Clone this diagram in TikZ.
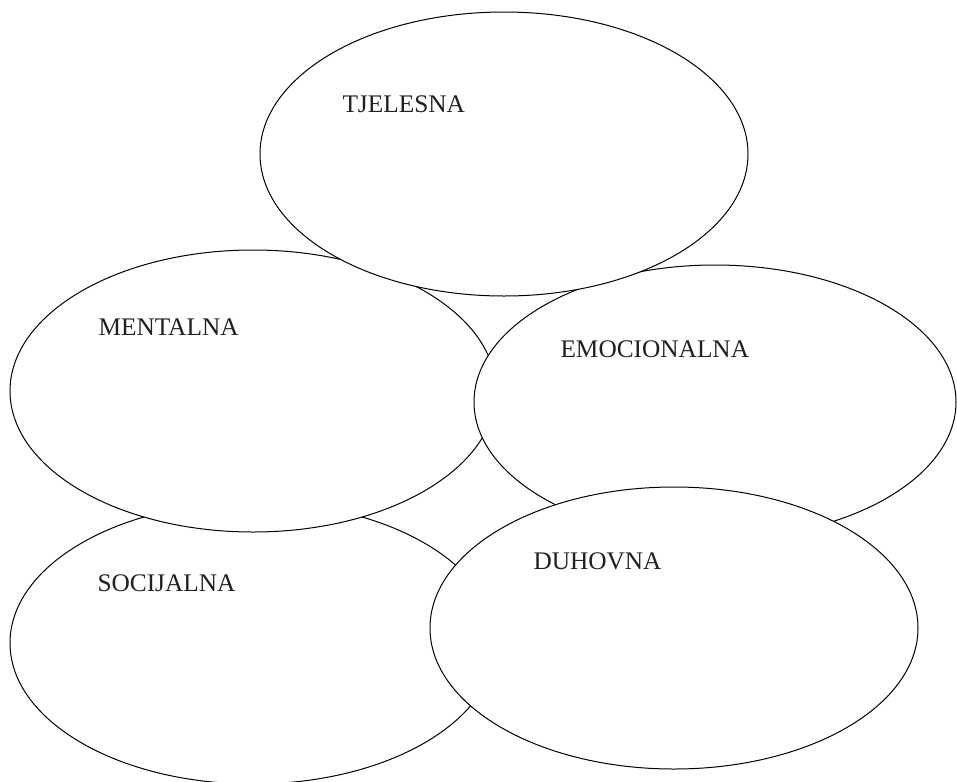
\documentclass[tikz,border=0pt]{standalone}
\usepackage{fontspec}
\setmainfont{Liberation Serif}

\tikzset{every picture/.style={line width=0.75pt}}
\tikzset{oval/.style={draw={rgb, 255:red, 0; green, 0; blue, 0 }, fill=white}}
\tikzset{lbl/.style={anchor=base west, inner sep=0pt, font=\fontsize{19}{22}\selectfont, text={rgb, 255:red, 35; green, 31; blue, 32 }}}

\begin{document}
\begin{tikzpicture}[x=0.75pt,y=0.75pt,yscale=-1,xscale=1]
	\useasboundingbox (0,0) rectangle (957,782);
	\clip (0,0) rectangle (957,782);

	%Shape: Ellipse [socijalna]
	\draw [oval] (253,643) ellipse (243 and 141);
	%Shape: Ellipse [mentalna]
	\draw [oval] (253,391) ellipse (243 and 141);
	%Shape: Ellipse [emocionalna]
	\draw [oval] (715,402) ellipse (241 and 137);
	%Shape: Ellipse [tjelesna]
	\draw [oval] (504,154) ellipse (244 and 142);
	%Shape: Ellipse [duhovna]
	\draw [oval] (674,628) ellipse (244 and 141);

	% Text Node
	\node [lbl] (tjelesna) at (342,112) {TJELESNA};
	% Text Node
	\node [lbl] (mentalna) at (98,335) {MENTALNA};
	% Text Node
	\node [lbl] (emocionalna) at (560,357) {EMOCIONALNA};
	% Text Node
	\node [lbl] (socijalna) at (97,591) {SOCIJALNA};
	% Text Node
	\node [lbl] (duhovna) at (533,569) {DUHOVNA};

\end{tikzpicture}
\end{document}
